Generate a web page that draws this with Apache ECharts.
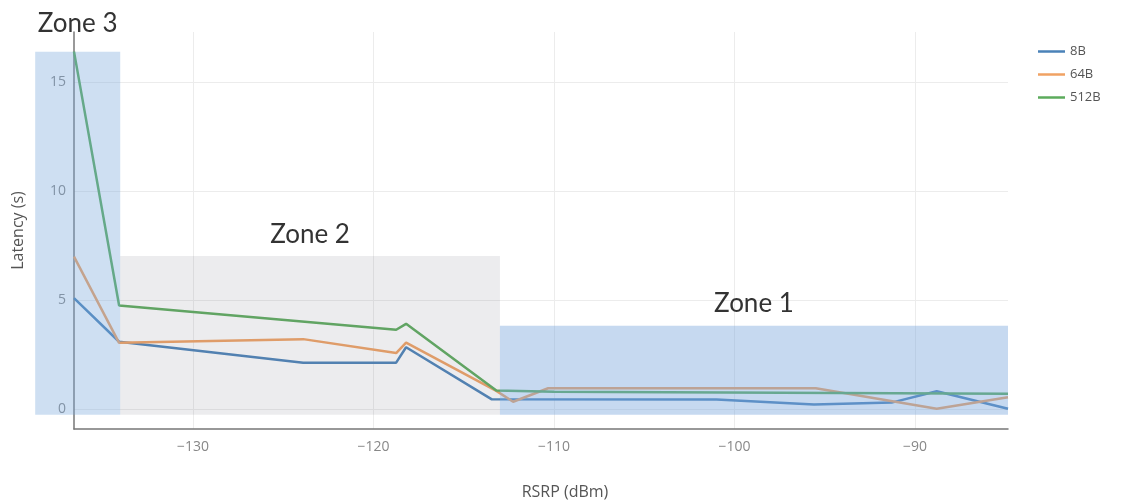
<!DOCTYPE html>
<html>
<head>
<meta charset="utf-8">
<title>Latency vs RSRP</title>
<script src="https://cdn.jsdelivr.net/npm/echarts@6/dist/echarts.min.js"></script>
<style>
  html, body { margin: 0; padding: 0; background: #ffffff; }
  #chart { width: 1123px; height: 502px; }
</style>
</head>
<body>
<div id="chart"></div>
<script>
// Latency samples per payload size, as (RSRP dBm, latency s)
const rsrp8B   = [-136.6, -134.1, -123.9, -118.75, -118.2, -113.45, -101.0, -95.6, -91.3, -88.8, -84.85];
const lat8B    = [5.1, 3.1, 2.14, 2.14, 2.85, 0.46, 0.45, 0.22, 0.31, 0.83, 0.03];
const rsrp64B  = [-136.6, -134.1, -123.9, -118.75, -118.2, -113.2, -112.27, -110.33, -95.5, -88.8, -84.85];
const lat64B   = [7.0, 3.05, 3.22, 2.58, 3.06, 0.85, 0.35, 0.97, 0.97, 0.03, 0.56];
const rsrp512B = [-136.6, -134.1, -118.75, -118.2, -113.2, -110.0, -84.85];
const lat512B  = [16.4, 4.76, 3.65, 3.92, 0.87, 0.81, 0.72];

const seriesNames = ['8B', '64B', '512B'];

// Coverage zones (RSRP range, latency range)
const zoneNames = ['Zone 3', 'Zone 2', 'Zone 1'];
const zoneFrom  = [-138.75, -134.04, -113.0];
const zoneTo    = [-134.04, -113.0, -84.85];
const zoneLow   = [-0.25, -0.25, -0.25];
const zoneHigh  = [16.4, 7.03, 3.83];

// Axis ticks
const xTicks = [-130, -120, -110, -100, -90];
const yTicks = [0, 5, 10, 15];

const pairs = (xs, ys) => xs.map((x, i) => [x, ys[i]]);
const zoneData = zoneNames.map((n, i) => [zoneFrom[i], zoneTo[i], zoneLow[i], zoneHigh[i], n]);

const zoneFill = ['rgba(120,165,220,0.36)', 'rgba(128,128,140,0.15)', 'rgba(120,165,220,0.42)'];
const zoneLabelGap = [15, 8, 9];

const chart = echarts.init(document.getElementById('chart'), null, { renderer: 'canvas' });

const minus = v => String(v).replace('-', '\u2212');

chart.setOption({
  animation: false,
  backgroundColor: '#ffffff',
  grid: { left: 74, right: 115, top: 32, bottom: 73, containLabel: false, outerBoundsMode: 'none' },
  legend: {
    data: seriesNames,
    orient: 'vertical',
    left: 1033,
    top: 40,
    icon: 'rect',
    itemWidth: 27,
    itemHeight: 2.5,
    itemGap: 10,
    textStyle: { fontFamily: 'Open Sans', fontSize: 13, color: '#555' }
  },
  xAxis: {
    type: 'value',
    min: -136.6,
    max: -84.85,
    name: 'RSRP (dBm)',
    nameLocation: 'middle',
    nameGap: 55,
    nameTextStyle: { fontFamily: 'Open Sans', fontSize: 16, color: '#555', padding: [0, 0, 0, 48] },
    axisLine: { show: true, onZero: false, lineStyle: { color: '#777', width: 1.5 } },
    axisTick: { show: false, customValues: xTicks },
    axisLabel: {
      customValues: xTicks,
      formatter: minus,
      margin: 11,
      fontFamily: 'Open Sans', fontSize: 14, color: '#888'
    },
    splitLine: { show: true, lineStyle: { color: '#ececec', width: 1 } }
  },
  yAxis: {
    type: 'value',
    min: -0.9,
    max: 17.3,
    name: 'Latency (s)',
    nameLocation: 'middle',
    nameRotate: 90,
    nameGap: 48,
    nameTextStyle: { fontFamily: 'Open Sans', fontSize: 16, color: '#555' },
    axisLine: { show: true, onZero: false, lineStyle: { color: '#777', width: 1.5 } },
    axisTick: { show: false, customValues: yTicks },
    axisLabel: {
      customValues: yTicks,
      margin: 8,
      fontFamily: 'Open Sans', fontSize: 14, color: '#888'
    },
    splitLine: { show: true, lineStyle: { color: '#ececec', width: 1 } }
  },
  series: [
    {
      name: '8B', type: 'line', data: pairs(rsrp8B, lat8B),
      symbol: 'none', z: 2, color: '#4a82b8',
      lineStyle: { width: 2.5, color: '#4a82b8' }
    },
    {
      name: '64B', type: 'line', data: pairs(rsrp64B, lat64B),
      symbol: 'none', z: 2, color: '#f0a263',
      lineStyle: { width: 2.5, color: '#f0a263' }
    },
    {
      name: '512B', type: 'line', data: pairs(rsrp512B, lat512B),
      symbol: 'none', z: 2, color: '#5cab5c',
      lineStyle: { width: 2.5, color: '#5cab5c' }
    },
    {
      name: 'zones', type: 'custom', data: zoneData, z: 4, clip: false, silent: true,
      encode: { x: [0, 1], y: [2, 3] },
      renderItem: function (params, api) {
        const i = params.dataIndex;
        const p0 = api.coord([api.value(0), api.value(3)]);
        const p1 = api.coord([api.value(1), api.value(2)]);
        return {
          type: 'group',
          children: [
            {
              type: 'rect',
              shape: { x: p0[0], y: p0[1], width: p1[0] - p0[0], height: p1[1] - p0[1] },
              style: { fill: zoneFill[i] }
            },
            {
              type: 'text',
              style: {
                text: zoneNames[i],
                x: (p0[0] + p1[0]) / 2,
                y: p0[1] - zoneLabelGap[i],
                align: 'center',
                verticalAlign: 'bottom',
                fontFamily: 'Lato',
                fontSize: 26,
                fill: '#333'
              }
            }
          ]
        };
      }
    }
  ]
});
</script>
</body>
</html>
